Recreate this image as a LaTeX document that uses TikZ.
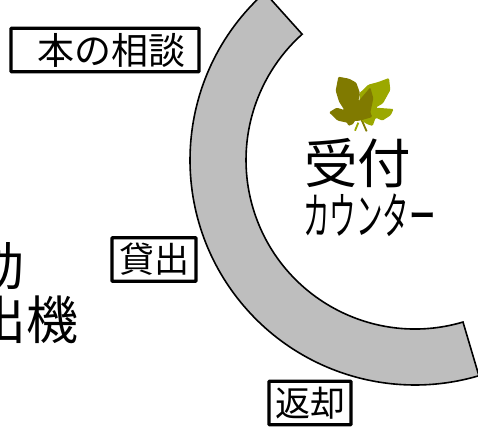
\documentclass[tikz,border=0pt]{standalone}
\usepackage{fontspec}
\setmainfont{Noto Sans CJK JP}
\definecolor{leafD}{HTML}{807A00}
\definecolor{leafL}{HTML}{9BA800}
\tikzset{
  labelbox/.style={draw=black,line width=3.3pt,fill=white,rounded corners=0.6pt,inner sep=0pt,minimum height=43.5pt},
  bigtext/.style={inner sep=0pt,font=\fontsize{52pt}{52pt}\selectfont},
  band/.style={draw=black,line width=1.6pt,fill=black!25.5,line join=miter},
  leafshape/.style={draw=none,rounded corners=1.2pt}
}
\begin{document}
\begin{tikzpicture}[x=1pt,y=1pt]
\useasboundingbox (0,0) rectangle (478,428);
\clip (0,0) rectangle (478,428);
% counter band (centre 415,268 in y-up pixels)
\coordinate (c) at (415,268);
\draw[band] ([shift={(131.9:225)}]c) arc[start angle=131.9,end angle=286.5,radius=225]
  -- ([shift={(286.5:169)}]c) arc[start angle=286.5,end angle=131.9,radius=169] -- cycle;
% labels
\node[labelbox,minimum width=188pt,anchor=center,font=\fontsize{37pt}{37pt}\selectfont] (soudan) at (105,378) {\hspace{12pt}本の相談};
\node[labelbox,minimum width=84pt,anchor=center,font=\fontsize{35pt}{35pt}\selectfont] (kashi) at (154,168.5) {貸出};
\node[labelbox,minimum width=82pt,anchor=center,font=\fontsize{35pt}{35pt}\selectfont] (henk) at (310,25) {返却};
% machine (text cut by the left edge)
\node[bigtext,anchor=east] (m1) at (25,162) {動};
\node[bigtext,anchor=east] (m2) at (79,108) {出機};
% reception text
\node[inner sep=0pt,anchor=center,font=\fontsize{53.5pt}{53.5pt}\selectfont] (uke) at (357.5,264.5) {受付};
\node[inner sep=0pt,anchor=center,font=\fontsize{50pt}{50pt}\selectfont,xscale=0.53] (cnt) at (369.5,213) {カウンター};
% leaf
\begin{scope}[shift={(325,358)},x=0.3333pt,y=-0.3333pt]
\draw[leafL,line width=1.8pt] (100,158) -- (90,182);
\draw[leafD,line width=1.8pt] (110,150) -- (125,184);
\fill[leafL,leafshape] (192,24) -- (196,60) -- (174,100) -- (152,113) -- (206,117) -- (197,136) -- (172,152) -- (152,143) -- (143,168) -- (125,162) -- (108,150) -- (103,70) -- (130,44) -- (160,36) -- cycle;
\fill[leafD,leafshape] (40,20) -- (72,26) -- (94,38) -- (105,70) -- (100,94) -- (136,52) -- (145,85) -- (136,128) -- (142,141) -- (105,152) -- (87,153) -- (87,161) -- (70,168) -- (67,158) -- (38,152) -- (12,127) -- (35,113) -- (58,120) -- (42,95) -- (32,62) -- cycle;
\end{scope}
\end{tikzpicture}
\end{document}
